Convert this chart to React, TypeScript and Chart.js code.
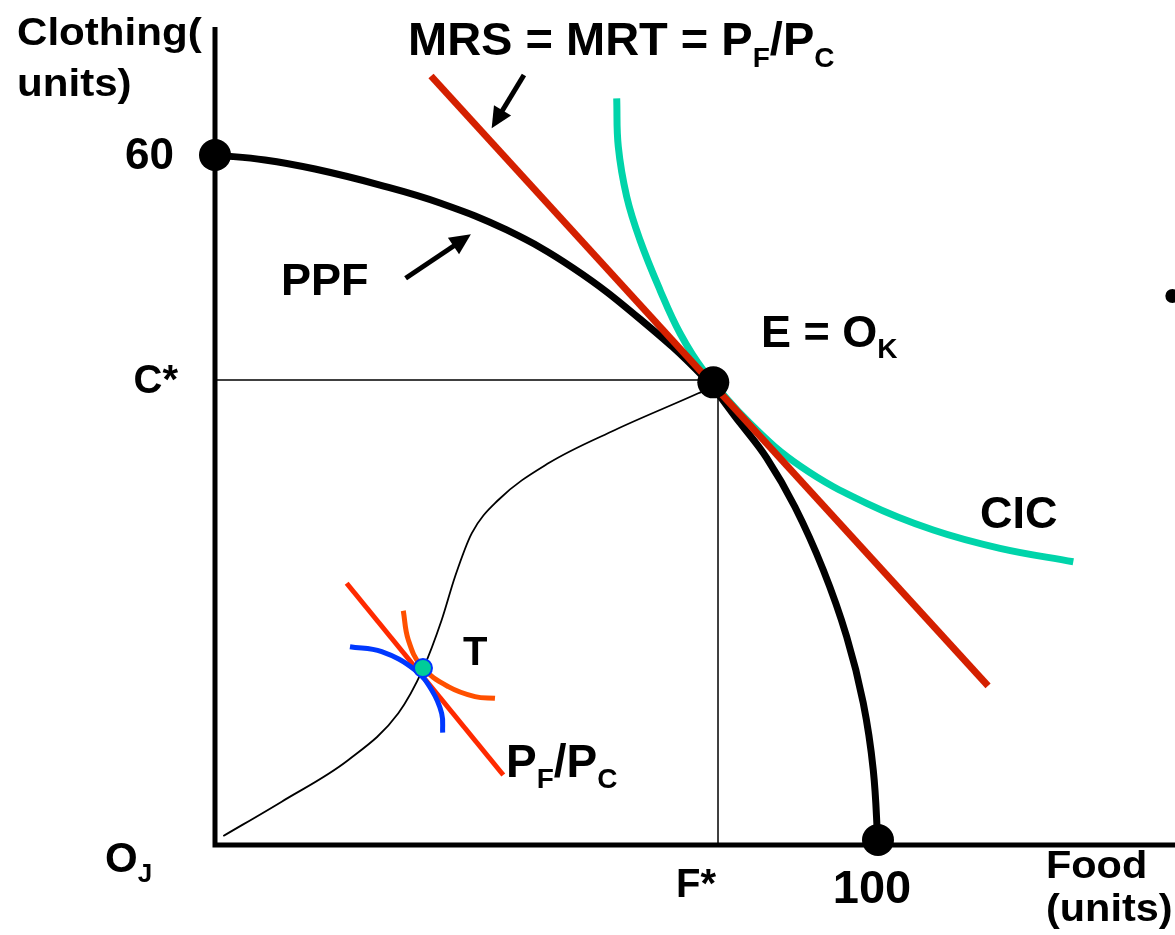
import React, { useEffect, useRef } from "react";
import { Chart, registerables } from "chart.js";

Chart.register(...registerables);

// ---------- data (Food units on x, Clothing units on y) ----------
const X_MAX = 144.8;
const Y_MAX = 71.13;

const ppfFood = [0, 7.54, 15.08, 24.89, 33.94, 44.0, 54.04, 64.1, 73.65, 79.19, 83.21, 87.48, 91.75, 95.28, 97.78, 99.29, 100];
const ppfClothing = [60, 59.57, 58.78, 57.39, 55.83, 53.48, 50.17, 45.74, 40.7, 36.7, 33.65, 29.39, 23.91, 18.11, 12.35, 6.52, 0];

const cicFood = [60.59, 60.83, 62.1, 64.1, 67.12, 70.14, 73.65, 80.69, 88.39, 98.3, 108.34, 118.4, 129.46];
const cicClothing = [64.93, 60.72, 56.37, 52.61, 48.26, 44.5, 41.3, 36.67, 32.9, 29.71, 27.39, 25.8, 24.63];

const mrsFood = [32.58, 116.6];
const mrsClothing = [66.87, 13.83];

const contractFood = [1.25, 10.06, 20.11, 27.65, 31.42, 34.19, 36.2, 38.72, 42.73, 50.27, 60.33, 72.9, 74.96];
const contractClothing = [0.78, 3.77, 7.39, 11.45, 15.37, 19.57, 23.33, 27.1, 30.0, 33.19, 36.09, 39.28, 39.83];

const priceFood = [19.86, 43.48];
const priceClothing = [22.76, 6.09];

const orangeFood = [28.4, 29.16, 31.18, 35.19, 39.22, 42.23];
const orangeClothing = [20.37, 17.83, 15.5, 13.77, 12.9, 12.76];

const blueFood = [20.36, 25.14, 30.17, 32.68, 34.19, 34.34];
const blueClothing = [17.24, 16.81, 15.22, 13.48, 11.45, 9.77];

const tradeFood = [31.37];
const tradeClothing = [15.39];

const cStar = 40.43;
const fStar = 75.87;

const dotFood = [0, 75.16, 100];
const dotClothing = [60, 40.23, 0.43];

const edgeDotFood = [144.4];
const edgeDotClothing = [47.74];

// arrows: [fromFood, fromClothing, toFood, toClothing]
const arrowMrs = [46.6, 66.96, 41.73, 62.32];
const arrowPpf = [28.75, 49.28, 38.6, 53.1];

const FONT = '"Liberation Sans", Arial, Helvetica, sans-serif';

const pts = (xs: number[], ys: number[]) => xs.map((x, i) => ({ x, y: ys[i] }));

type Mode = "straight" | "smooth" | "monotone";

function lineDs(data: { x: number; y: number }[], color: string, width: number, order: number, mode: Mode = "smooth") {
  return {
    data,
    showLine: true,
    borderColor: color,
    backgroundColor: color,
    borderWidth: width,
    pointRadius: 0,
    pointHoverRadius: 0,
    tension: mode === "straight" ? 0 : 0.4,
    cubicInterpolationMode: mode === "monotone" ? "monotone" : "default",
    fill: false,
    clip: false as const,
    order,
  };
}

type Run = { t: string; size: number; dy?: number };

function drawRuns(ctx: CanvasRenderingContext2D, x: number, y: number, runs: Run[]) {
  let cx = x;
  for (const r of runs) {
    ctx.font = `bold ${r.size}px ${FONT}`;
    ctx.fillText(r.t, cx, y + (r.dy || 0));
    cx += ctx.measureText(r.t).width;
  }
}

function drawStretched(ctx: CanvasRenderingContext2D, t: string, x: number, y: number, size: number, sx: number) {
  ctx.save();
  ctx.font = `bold ${size}px ${FONT}`;
  ctx.translate(x, y);
  ctx.scale(sx, 1);
  ctx.fillText(t, 0, 0);
  ctx.restore();
}

const annotationPlugin = {
  id: "annotations",
  afterDatasetsDraw(chart: any) {
    const ctx: CanvasRenderingContext2D = chart.ctx;
    const xs = chart.scales.x;
    const ys = chart.scales.y;
    const px = (v: number) => xs.getPixelForValue(v);
    const py = (v: number) => ys.getPixelForValue(v);

    // arrows
    const drawArrow = (a: number[]) => {
      const x1 = px(a[0]), y1 = py(a[1]), x2 = px(a[2]), y2 = py(a[3]);
      const ang = Math.atan2(y2 - y1, x2 - x1);
      const headLen = 21, headHalf = 10;
      const bx = x2 - headLen * Math.cos(ang);
      const by = y2 - headLen * Math.sin(ang);
      ctx.save();
      ctx.strokeStyle = "#000";
      ctx.fillStyle = "#000";
      ctx.lineWidth = 5;
      ctx.beginPath();
      ctx.moveTo(x1, y1);
      ctx.lineTo(bx + 2 * Math.cos(ang), by + 2 * Math.sin(ang));
      ctx.stroke();
      ctx.beginPath();
      ctx.moveTo(x2, y2);
      ctx.lineTo(bx + headHalf * Math.sin(ang), by - headHalf * Math.cos(ang));
      ctx.lineTo(bx - headHalf * Math.sin(ang), by + headHalf * Math.cos(ang));
      ctx.closePath();
      ctx.fill();
      ctx.restore();
    };
    drawArrow(arrowMrs);
    drawArrow(arrowPpf);

    // texts
    ctx.save();
    ctx.fillStyle = "#000";
    ctx.textBaseline = "alphabetic";
    ctx.textAlign = "left";

    drawStretched(ctx, "Clothing(", 17, 45, 39, 1.08);
    drawStretched(ctx, "units)", 17, 96, 39, 1.08);
    drawStretched(ctx, "Food", 1046, 878, 38, 1.09);
    drawStretched(ctx, "(units)", 1046, 921, 38, 1.09);

    ctx.textAlign = "right";
    ctx.font = `bold 44px ${FONT}`;
    ctx.fillText("60", 174, py(60) + 14);
    ctx.font = `bold 40px ${FONT}`;
    ctx.fillText("C*", 178, py(cStar) + 13);
    ctx.textAlign = "center";
    ctx.fillText("F*", px(fStar) - 22, 897);
    ctx.font = `bold 47px ${FONT}`;
    ctx.fillText("100", px(100) - 6, 903);
    ctx.textAlign = "left";

    drawRuns(ctx, 408, 55, [
      { t: "MRS = MRT = P", size: 47 },
      { t: "F", size: 28, dy: 12 },
      { t: "/P", size: 47 },
      { t: "C", size: 28, dy: 12 },
    ]);
    drawRuns(ctx, 281, 295, [{ t: "PPF", size: 45 }]);
    drawRuns(ctx, 761, 347, [
      { t: "E = O", size: 45 },
      { t: "K", size: 28, dy: 11 },
    ]);
    drawRuns(ctx, 980, 528, [{ t: "CIC", size: 45 }]);
    drawRuns(ctx, 463, 665, [{ t: "T", size: 40 }]);
    drawRuns(ctx, 506, 777, [
      { t: "P", size: 46 },
      { t: "F", size: 28, dy: 11 },
      { t: "/P", size: 46 },
      { t: "C", size: 28, dy: 11 },
    ]);
    drawRuns(ctx, 105, 872, [
      { t: "O", size: 42 },
      { t: "J", size: 26, dy: 10 },
    ]);
    ctx.restore();
  },
};

export default function App() {
  const ref = useRef<HTMLCanvasElement>(null);

  useEffect(() => {
    if (!ref.current) return;
    const datasets: any[] = [
      // guide lines
      lineDs([{ x: 0, y: cStar }, { x: fStar - 0.5, y: cStar }], "#000", 1.5, 100, "straight"),
      lineDs([{ x: fStar, y: 0 }, { x: fStar, y: cStar - 0.3 }], "#000", 1.5, 100, "straight"),
      // contract curve
      lineDs(pts(contractFood, contractClothing), "#000", 1.8, 95, "monotone"),
      // axes
      {
        ...lineDs([{ x: 0, y: Y_MAX }, { x: 0, y: 0 }, { x: X_MAX, y: 0 }], "#000", 5, 90, "straight"),
        borderJoinStyle: "miter",
      },
      // CIC
      lineDs(pts(cicFood, cicClothing), "#00d4aa", 7, 80, "smooth"),
      // PPF
      lineDs(pts(ppfFood, ppfClothing), "#000", 7, 70, "smooth"),
      // MRS = MRT line
      lineDs(pts(mrsFood, mrsClothing), "#d42000", 7, 60, "straight"),
      // orange indifference curve at T
      lineDs(pts(orangeFood, orangeClothing), "#ff5000", 5, 50, "smooth"),
      // price line at T
      lineDs(pts(priceFood, priceClothing), "#ff2a00", 5, 45, "straight"),
      // blue indifference curve at T
      lineDs(pts(blueFood, blueClothing), "#0038ff", 5, 40, "smooth"),
      // T point
      {
        data: pts(tradeFood, tradeClothing),
        showLine: false,
        pointRadius: 9,
        pointHoverRadius: 9,
        pointBackgroundColor: "#00cc99",
        pointBorderColor: "#0033ff",
        pointBorderWidth: 2,
        clip: false,
        order: 10,
      },
      // black dots
      {
        data: pts(dotFood, dotClothing),
        showLine: false,
        pointRadius: 16,
        pointHoverRadius: 16,
        pointBackgroundColor: "#000",
        pointBorderColor: "#000",
        pointBorderWidth: 0,
        clip: false,
        order: 5,
      },
      {
        data: pts(edgeDotFood, edgeDotClothing),
        showLine: false,
        pointRadius: 7,
        pointHoverRadius: 7,
        pointBackgroundColor: "#000",
        pointBorderColor: "#000",
        pointBorderWidth: 0,
        clip: false,
        order: 5,
      },
    ];

    const chart = new Chart(ref.current, {
      type: "scatter",
      data: { datasets },
      options: {
        responsive: false,
        animation: false,
        events: [],
        layout: { autoPadding: false, padding: { left: 215, right: 0, top: 27, bottom: 90 } },
        scales: {
          x: { type: "linear", min: 0, max: X_MAX, display: false },
          y: { type: "linear", min: 0, max: Y_MAX, display: false },
        },
        plugins: {
          legend: { display: false },
          tooltip: { enabled: false },
          title: { display: false },
        },
      },
      plugins: [annotationPlugin],
    } as any);

    return () => chart.destroy();
  }, []);

  return (
    <div style={{ position: "absolute", left: 0, top: 0, width: 1175, height: 935, background: "#fff", overflow: "hidden" }}>
      <canvas ref={ref} width={1175} height={935} style={{ display: "block", width: 1175, height: 935 }} />
    </div>
  );
}
